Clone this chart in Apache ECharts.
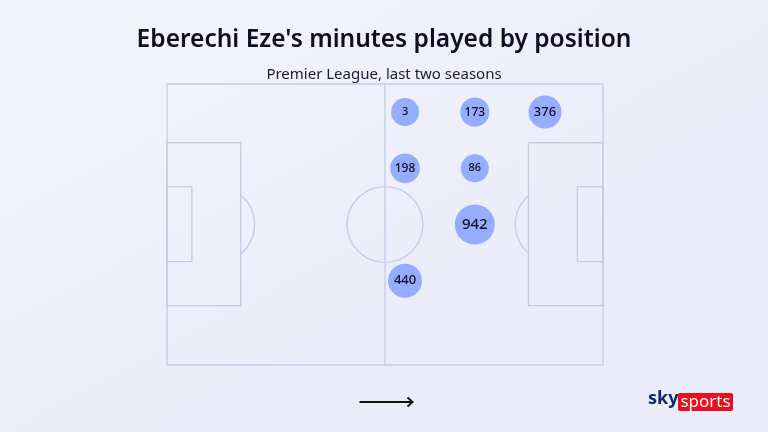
<!DOCTYPE html>
<html>
<head>
<meta charset="utf-8">
<script src="https://cdn.jsdelivr.net/npm/echarts@6/dist/echarts.min.js"></script>
<style>
  html, body { margin: 0; padding: 0; }
  #chart { width: 768px; height: 432px; }
</style>
</head>
<body>
<div id="chart"></div>
<script>
// positions on a 0-100 pitch (x = length, y = width, top to bottom)
const posX = [54.6, 70.6, 86.7, 54.6, 70.6, 70.6, 54.6]
const posY = [10, 10, 10, 30, 30, 50, 70]
const minutes = [3, 173, 376, 198, 86, 942, 440]

const points = minutes.map((m, i) => [posX[i], posY[i], m])

// bubble size grows with sqrt of minutes, small ones clamped
const bubbleSize = v => Math.max(28, 21 + 0.62 * Math.sqrt(v))

const lineColor = '#c5cce6'

// pitch markings, in the same 0-100 units
function drawPitch(params, api) {
  const p = (x, y) => api.coord([x, y])
  const rect = (x0, y0, x1, y1) => {
    const a = p(x0, y0), b = p(x1, y1)
    return {
      type: 'rect',
      shape: { x: a[0], y: a[1], width: b[0] - a[0], height: b[1] - a[1] },
      style: { fill: 'none', stroke: lineColor, lineWidth: 1.3 },
    }
  }
  const unit = p(1, 0)[0] - p(0, 0)[0]
  const r = 8.7 * unit
  const c = p(50, 50)
  // penalty arcs, only the part outside the box
  const spotL = p(11.4, 50), spotR = p(88.6, 50)
  const boxL = p(16.9, 50)[0], boxR = p(82.9, 50)[0]
  const thL = Math.acos((boxL - spotL[0]) / r)
  const thR = Math.acos((spotR[0] - boxR) / r)
  const arc = (cx, cy, s, e) => ({
    type: 'arc',
    shape: { cx: cx, cy: cy, r: r, startAngle: s, endAngle: e, clockwise: true },
    style: { fill: 'none', stroke: lineColor, lineWidth: 1.3 },
  })
  const top = p(50, 0), bottom = p(50, 100)
  return {
    type: 'group',
    children: [
      rect(0, 0, 100, 100),
      {
        type: 'line',
        shape: { x1: top[0], y1: top[1], x2: bottom[0], y2: bottom[1] },
        style: { stroke: lineColor, lineWidth: 1.3 },
      },
      {
        type: 'circle',
        shape: { cx: c[0], cy: c[1], r: r },
        style: { fill: 'none', stroke: lineColor, lineWidth: 1.3 },
      },
      rect(0, 20.9, 16.9, 78.9),
      rect(0, 36.5, 5.7, 63.2),
      rect(82.9, 20.9, 100, 78.9),
      rect(94.1, 36.5, 100, 63.2),
      arc(spotL[0], spotL[1], -thL, thL),
      arc(spotR[0], spotR[1], Math.PI - thR, Math.PI + thR),
    ],
  }
}

const chart = echarts.init(document.getElementById('chart'))
chart.setOption({
  backgroundColor: new echarts.graphic.LinearGradient(0, 0, 0.3, 1, [
    { offset: 0, color: '#f5f5fd' },
    { offset: 1, color: '#eaecf9' },
  ]),
  animation: false,
  title: {
    text: "Eberechi Eze's minutes played by position",
    subtext: 'Premier League, last two seasons',
    left: 'center',
    top: 23,
    itemGap: 14,
    textStyle: {
      fontFamily: 'Noto Sans',
      fontWeight: 600,
      fontSize: 24.5,
      color: '#0d0d26',
    },
    subtextStyle: {
      fontFamily: 'Noto Sans',
      fontSize: 15,
      color: '#1a1a33',
    },
  },
  grid: { left: 167, top: 84, width: 436, height: 281 },
  xAxis: { type: 'value', min: 0, max: 100, show: false },
  yAxis: { type: 'value', min: 0, max: 100, inverse: true, show: false },
  series: [
    {
      type: 'custom',
      renderItem: drawPitch,
      data: [[0, 0]],
      clip: false,
      silent: true,
      z: 1,
    },
    {
      type: 'scatter',
      data: points.map(d => ({
        value: d,
        label: { fontSize: Math.round(bubbleSize(d[2]) * 0.33 + 2) },
      })),
      symbolSize: d => bubbleSize(d[2]),
      itemStyle: { color: '#95adff', opacity: 1 },
      z: 5,
      label: {
        show: true,
        position: 'inside',
        formatter: p => p.value[2],
        color: '#0d0d26',
        fontFamily: 'Noto Sans',
        fontWeight: 500,
      },
    },
  ],
  graphic: [
    // direction of play arrow
    {
      type: 'group',
      left: 357,
      top: 395,
      children: [
        { type: 'line', shape: { x1: 0, y1: 5, x2: 53, y2: 5 }, style: { stroke: '#111', lineWidth: 2 } },
        { type: 'polyline', shape: { points: [[48, 0.5], [53, 5], [48, 9.5]] }, style: { stroke: '#111', lineWidth: 2, fill: 'none' } },
      ],
    },
    // sky sports logo
    {
      type: 'text',
      left: 648,
      top: 390,
      style: { text: 'sky', fill: '#0b2a7a', font: 'bold 18px "Noto Sans"' },
    },
    {
      type: 'rect',
      left: 678,
      top: 393,
      shape: { width: 55, height: 18, r: 2 },
      style: { fill: '#e8101e' },
    },
    {
      type: 'text',
      x: 705.5,
      y: 402,
      style: {
        text: 'sports',
        fill: '#fff',
        font: '17px "Noto Sans"',
        align: 'center',
        verticalAlign: 'middle',
      },
    },
  ],
})
</script>
</body>
</html>
